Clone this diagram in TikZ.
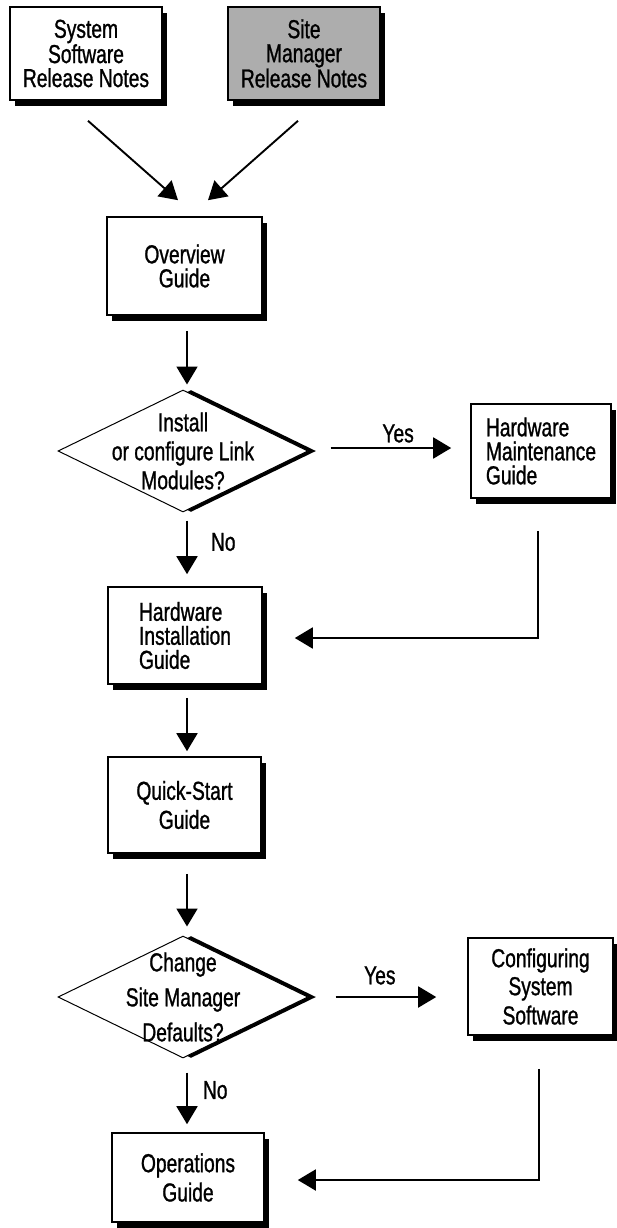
\documentclass[tikz,border=0pt]{standalone}
\usepackage{fontspec}
\setmainfont{Liberation Sans}[FakeStretch=0.74, FakeBold=1]
\usetikzlibrary{arrows.meta,shapes.geometric,shadows}

\tikzset{
  doc/.style={draw, line width=1.6pt, fill=white, inner sep=0pt, align=center,
    drop shadow={shadow xshift=5pt, shadow yshift=-6pt, opacity=1, fill=black}},
  decision/.style={diamond, draw, line width=1pt, fill=white, inner sep=0pt,
    minimum width=250pt, minimum height=122pt,
    drop shadow={shadow xshift=8pt, shadow yshift=0pt, opacity=1, fill=black}},
  flow/.style={line width=1.9pt, -{Triangle[length=18pt,width=21pt]}},
  tag/.style={inner sep=0pt}
}

\begin{document}
\begin{tikzpicture}[x=1pt, y=-1pt, font=\fontsize{26}{24}\selectfont]
  \useasboundingbox (0,0) rectangle (617,1228);

  % release notes
  \node[doc, minimum width=152pt, minimum height=93pt] (relsys) at (86,53.5) {System\\Software\\Release Notes};
  \node[doc, fill=black!32, minimum width=152pt, minimum height=93pt] (relsm) at (304,53.5) {Site\\Manager\\Release Notes};

  % main column
  \node[doc, minimum width=155pt, minimum height=98pt] (overview) at (184.5,266) {Overview\\Guide};
  \node[decision, label={[tag, align=center, font=\fontsize{26}{29}\selectfont]center:{Install\\or configure Link\\Modules?}}] (q1) at (183,451) {};
  \node[doc, align=left, minimum width=140pt, minimum height=94pt] (hwmaint) at (541,451) {Hardware\\Maintenance\\Guide};
  \node[doc, align=left, minimum width=154pt, minimum height=97pt] (hwinst) at (185,635.5) {Hardware\\Installation\\Guide};
  \node[doc, minimum width=153pt, minimum height=96pt] (quick) at (184.5,805) {Quick-Start\\[5pt]Guide};
  \node[decision, label={[tag, align=center, font=\fontsize{26}{35}\selectfont]center:{Change\\Site Manager\\Defaults?}}] (q2) at (183,997) {};
  \node[doc, minimum width=145pt, minimum height=97pt] (config) at (540.5,986.5) {Configuring\\[4pt]System\\[4pt]Software};
  \node[doc, minimum width=152pt, minimum height=89pt] (ops) at (188,1177.5) {Operations\\[4pt]Guide};

  % connectors
  \draw[flow] ([xshift=2pt,yshift=-20pt]relsys.south) -- ([xshift=-6.5pt,yshift=16pt]overview.north);
  \draw[flow] ([xshift=-6pt,yshift=-20pt]relsm.south) -- ([xshift=23.5pt,yshift=16pt]overview.north);
  \draw[flow] ([xshift=2.5pt,yshift=-15pt]overview.south) -- ([xshift=4pt,yshift=5pt]q1.north);
  \draw[flow] ([xshift=22pt,yshift=3pt]q1.east) -- ([xshift=-19pt,yshift=3pt]hwmaint.west)
    node[tag, pos=0.56, above=4.5pt] {Yes};
  \draw[flow] ([xshift=4pt,yshift=-8pt]q1.south) -- ([xshift=2pt,yshift=12pt]hwinst.north)
    node[tag, pos=0.4, right=23pt] {No};
  \draw[flow] ([xshift=-3pt,yshift=-32pt]hwmaint.south) |- ([xshift=32pt,yshift=-2.5pt]hwinst.east);
  \draw[flow] ([xshift=2pt,yshift=-13pt]hwinst.south) -- ([xshift=2.5pt,yshift=5pt]quick.north);
  \draw[flow] ([xshift=2.5pt,yshift=-20pt]quick.south) -- ([xshift=4pt,yshift=9pt]q2.north);
  \draw[flow] ([xshift=27pt]q2.east) -- ([xshift=-31pt,yshift=-10.5pt]config.west)
    node[tag, pos=0.44, above=11.5pt] {Yes};
  \draw[flow] ([xshift=4pt,yshift=-14pt]q2.south) -- ([xshift=-1pt,yshift=8pt]ops.north)
    node[tag, pos=0.34, right=15pt] {No};
  \draw[flow] ([xshift=-1.5pt,yshift=-33pt]config.south) |- ([xshift=33pt,yshift=-2.5pt]ops.east);
\end{tikzpicture}
\end{document}
